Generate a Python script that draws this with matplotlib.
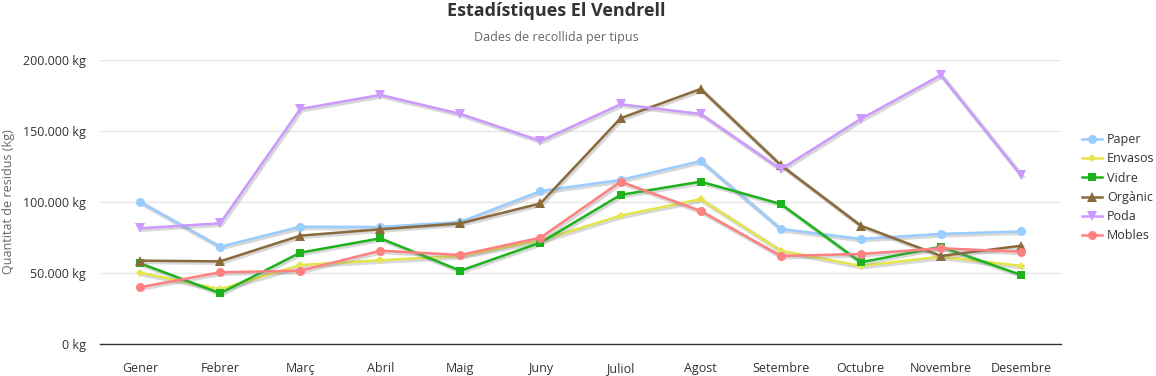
import matplotlib.pyplot as plt
import matplotlib.patheffects as pe
from matplotlib.lines import Line2D
from matplotlib.ticker import FuncFormatter

months = ["Gener", "Febrer", "Març", "Abril", "Maig", "Juny", "Juliol",
          "Agost", "Setembre", "Octubre", "Novembre", "Desembre"]

paper = [100000, 68500, 82600, 82400, 86000, 107700, 115500, 128900, 81000, 74000, 77500, 79300]
envasos = [50200, 38600, 55600, 59000, 62000, 73000, 90400, 102000, 65700, 55000, 61500, 55000]
vidre = [56800, 35700, 64300, 74400, 51600, 71400, 105000, 114300, 98600, 57500, 68500, 48600]
organic = [58700, 58200, 76300, 80800, 85000, 99000, 159000, 179600, 126000, 83300, 62000, 69200]
poda = [81500, 85000, 165500, 175400, 162000, 143000, 168800, 162000, 123000, 158500, 189400, 119000]
mobles = [40000, 50500, 51600, 65700, 62700, 74900, 114300, 93700, 62000, 63400, 67400, 65000]

series = [
    ("Paper", paper, "#99ccff", "o", 6.5),
    ("Envasos", envasos, "#e5e54c", "D", 4.5),
    ("Vidre", vidre, "#1db31d", "s", 5.5),
    ("Orgànic", organic, "#8a6a3a", "^", 6.5),
    ("Poda", poda, "#cc99ff", "v", 6.5),
    ("Mobles", mobles, "#ff8080", "o", 6.5),
]

plt.rcParams["font.family"] = ["Open Sans", "DejaVu Sans"]

figure = plt.figure(figsize=(11.56, 3.76), dpi=100)
axis = figure.add_axes([100 / 1156, 32 / 376, 961 / 1156, 284 / 376])

x = list(range(len(months)))
shadow = [
    pe.SimpleLineShadow(offset=(1, -1), shadow_color="gray", alpha=0.3, linewidth=3.2),
    pe.Normal(),
]

handles = []
for name, values, color, marker, size in series:
    axis.plot(x, values, color=color, linewidth=1.8, path_effects=shadow)
    axis.plot(x, values, linestyle="none", marker=marker, markersize=size,
              color=color, markeredgewidth=0)
    handles.append(
        Line2D([], [], color=color, linewidth=1.8, marker=marker,
               markersize=size, markeredgewidth=0, label=name)
    )

axis.set_ylim(0, 200000)
axis.set_xlim(-0.5, len(months) - 0.5)
axis.set_yticks([0, 50000, 100000, 150000, 200000])
axis.yaxis.set_major_formatter(
    FuncFormatter(lambda v, _: f"{int(v):,} kg".replace(",", "."))
)
axis.set_xticks(x)
axis.set_xticklabels(months)
axis.tick_params(axis="both", length=0, labelsize=9, colors="#333333")
axis.tick_params(axis="x", pad=13)
axis.tick_params(axis="y", pad=10)
axis.grid(True, axis="y", color="#e6e6e6", linewidth=1)
axis.set_axisbelow(True)
for side in ["top", "right", "left"]:
    axis.spines[side].set_visible(False)
axis.spines["bottom"].set_color("#333333")
axis.spines["bottom"].set_linewidth(1)

axis.set_ylabel("Quantitat de residus (kg)", fontsize=9, color="#666666")
axis.yaxis.label.set_va("center")
axis.yaxis.set_label_coords((9 - 100) / 961, 0.5)

figure.text(556 / 1156, 1 - 11 / 376, "Estadístiques El Vendrell", ha="center", va="center",
            fontsize=13, fontweight="bold", color="#333333")
figure.text(556 / 1156, 1 - 38 / 376, "Dades de recollida per tipus", ha="center", va="center",
            fontsize=9, color="#666666")

axis.legend(
    handles=handles,
    loc="center left",
    bbox_to_anchor=(1.01, 0.55),
    frameon=False,
    fontsize=9,
    handlelength=1.6,
    labelspacing=0.5,
    handletextpad=0.4,
    labelcolor="#333333",
)

figure.savefig("out.png", dpi=100)
